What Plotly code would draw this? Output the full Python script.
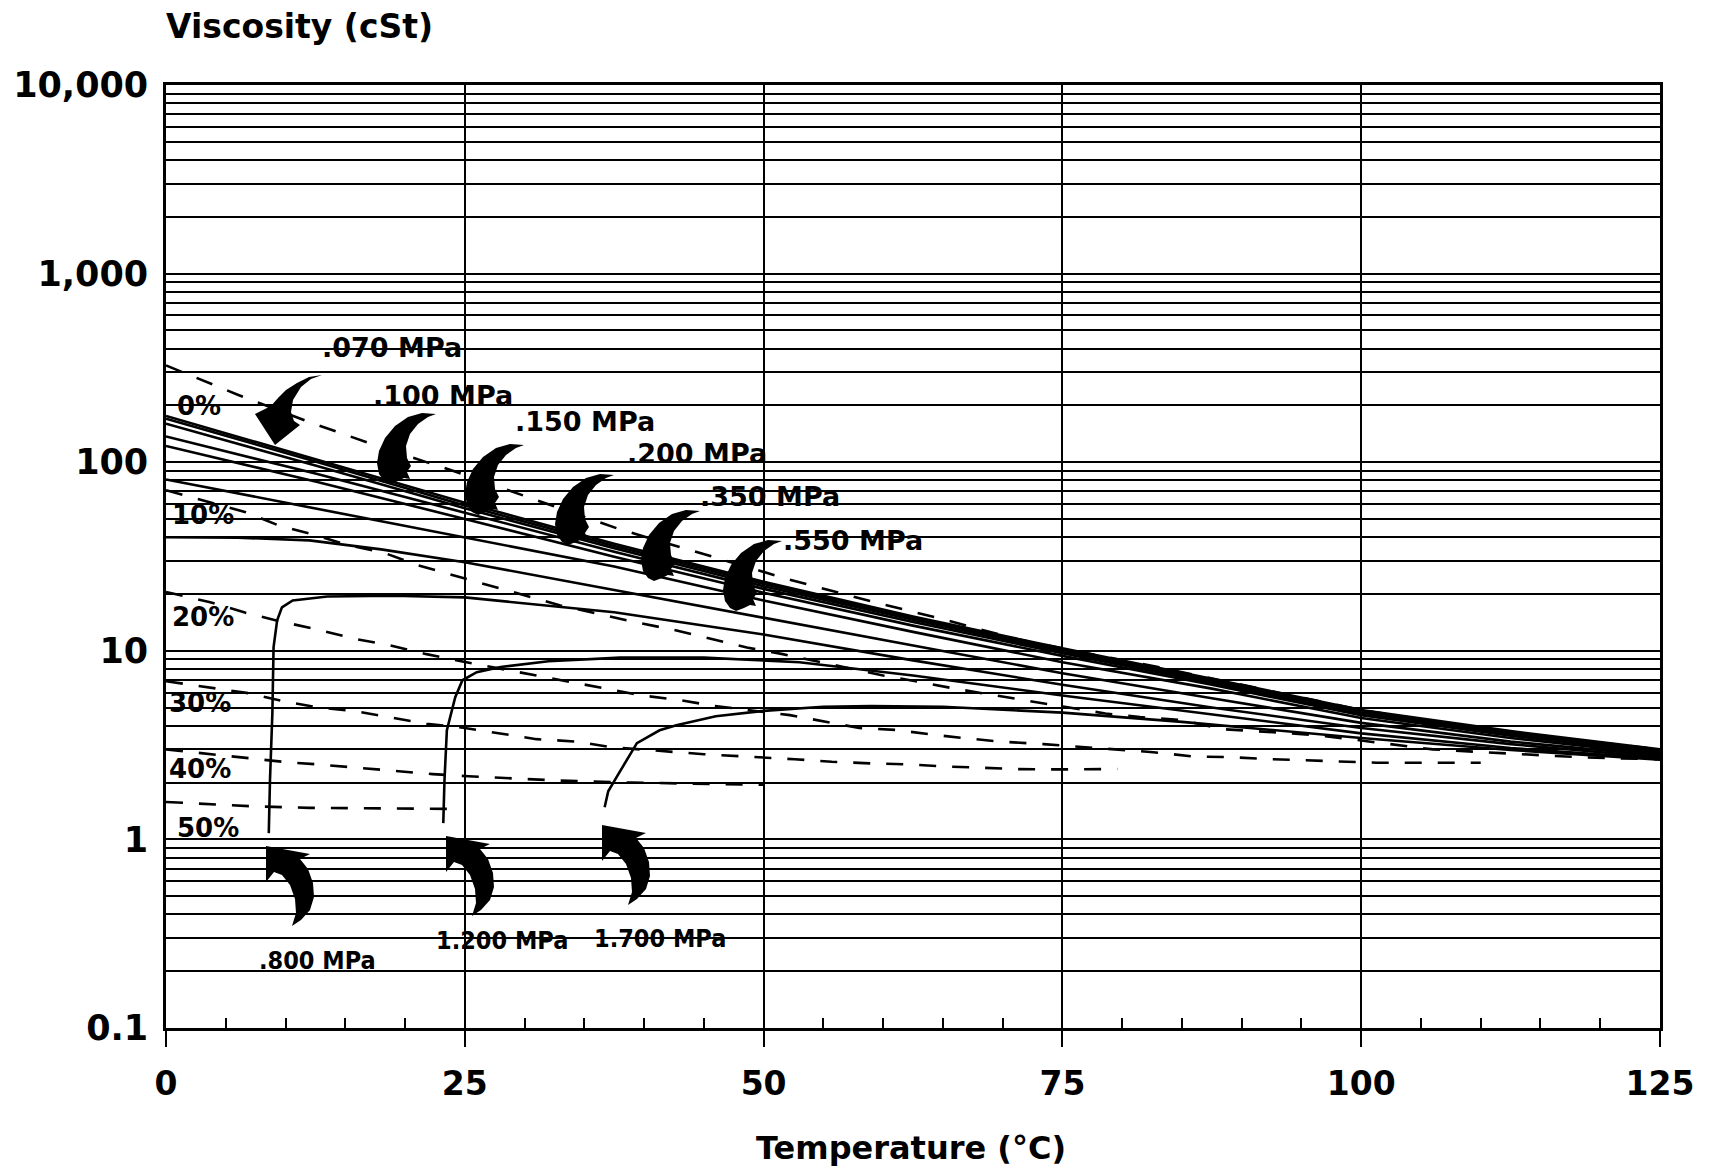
import plotly.graph_objects as go

# ------------------------------------------------------------------
# DATA
# Temperature in degC, kinematic viscosity in cSt
# ------------------------------------------------------------------
pct_labels = ["0%", "10%", "20%", "30%", "40%", "50%"]

# Dashed lines: constant refrigerant concentration
t_pct0 = [0, 6, 12, 18, 24, 30, 38, 44, 52, 59, 65, 71, 75, 83, 90, 100, 112, 125]
v_pct0 = [326, 228, 163, 120, 90, 66, 44, 34, 24, 18.3, 14.7, 11.6, 10.3, 8.2, 6.6, 4.85, 3.7, 3.0]

t_pct10 = [0, 3, 6.6, 9.4, 12.5, 15.2, 18.3, 21, 24, 27, 30, 33, 36, 39, 42.5, 45.6, 48.6, 51.6,
           57, 60, 63, 66, 69.4, 72.5, 75.5, 78.6, 81.5, 85, 88.4, 94, 97, 101, 106, 112.5, 118.6, 125]
v_pct10 = [71, 62.8, 54.5, 46.3, 41, 36.4, 33, 28.5, 25.2, 22.3, 19.6, 17.4, 15.8, 14.3, 12.9, 11.6, 10.4, 9.6,
           8.1, 7.4, 6.85, 6.3, 5.8, 5.4, 5.0, 4.65, 4.45, 4.29, 3.84, 3.66, 3.53, 3.29, 3.0, 2.85, 2.72, 2.66]

t_pct20 = [0, 3.7, 6.6, 9.6, 12.6, 15.7, 18.7, 21.8, 24.7, 30.6, 33.6, 36.7, 39.8, 42.8, 45.9, 52.2, 55.3,
           58, 61.2, 64, 66.7, 69.8, 73.4, 76.5, 79.6, 82.6, 86, 89, 92, 95, 98, 101.3, 104.3, 107.4, 110]
v_pct20 = [20.5, 18.1, 15.95, 14.3, 13.0, 11.6, 10.7, 9.6, 8.8, 7.5, 6.9, 6.3, 5.8, 5.5, 5.1, 4.56, 4.2,
           3.9, 3.8, 3.6, 3.45, 3.3, 3.2, 3.1, 2.98, 2.9, 2.75, 2.73, 2.67, 2.63, 2.6, 2.55, 2.55, 2.55, 2.55]

t_pct30 = [0, 6.9, 9.8, 12.8, 15.7, 18.8, 21.8, 25, 28, 31, 34.4, 37, 39.7, 45, 52.6, 55.7, 58.9,
           62, 65, 68.1, 71.2, 74.2, 77.3, 79.6]
v_pct30 = [6.9, 5.96, 5.4, 5.0, 4.8, 4.45, 4.1, 3.9, 3.64, 3.4, 3.3, 3.1, 3.0, 2.83, 2.66, 2.58, 2.53,
           2.5, 2.44, 2.4, 2.36, 2.35, 2.35, 2.36]

t_pct40 = [0, 6.9, 10, 13, 16, 19.2, 22.3, 25.3, 28.4, 33, 39, 45, 50]
v_pct40 = [3.0, 2.7, 2.57, 2.49, 2.4, 2.3, 2.22, 2.16, 2.11, 2.05, 2.0, 1.97, 1.95]

t_pct50 = [0, 7, 12, 17, 22.3, 24.8]
v_pct50 = [1.58, 1.5, 1.47, 1.46, 1.45, 1.45]

# Solid lines: constant pressure
t_std = [0, 12.5, 25, 37.5, 50, 62.5, 75, 87.5, 100, 112.5, 125]
v_p070 = [176, 104, 61, 37, 23.2, 15.2, 10.3, 7.1, 4.85, 3.75, 3.0]
v_p100 = [170, 101, 59, 36, 22.6, 14.9, 10.1, 7.0, 4.8, 3.7, 2.97]
v_p150 = [160, 96, 57, 35, 22.0, 14.6, 9.9, 6.9, 4.75, 3.65, 2.95]
v_p200 = [137, 87, 54, 33.5, 21.3, 14.2, 9.7, 6.75, 4.65, 3.6, 2.92]
v_p350 = [122, 79, 50, 31.5, 20.3, 13.6, 9.4, 6.6, 4.55, 3.55, 2.88]
v_p550 = [81, 57, 40, 28, 18.5, 12.6, 8.7, 6.3, 4.4, 3.45, 2.83]

t_pX = [0, 6, 12, 18, 25, 37.5, 50, 62.5, 75, 87.5, 100, 112.5, 125]
v_pX = [40, 39.8, 38.5, 34.5, 29.5, 21, 15, 10.6, 7.6, 5.6, 4.15, 3.3, 2.78]

t_p800 = [8.6, 8.7, 8.9, 9.0, 9.3, 9.7, 10.6, 13.5, 19, 25, 37.5, 50, 62.5, 75, 87.5, 100, 112.5, 125]
v_p800 = [1.08, 2.06, 4.67, 10.45, 14.5, 17.0, 18.5, 19.4, 19.6, 19.2, 16, 12.2, 8.9, 6.6, 5.0, 3.9, 3.2, 2.72]

t_p1200 = [23.2, 23.3, 23.5, 24.2, 24.8, 26, 28, 32, 38, 45, 53, 62.5, 75, 87.5, 100, 112.5, 125]
v_p1200 = [1.22, 2.06, 3.79, 5.68, 6.98, 7.7, 8.2, 8.8, 9.2, 9.2, 8.7, 7.4, 5.8, 4.6, 3.65, 3.05, 2.68]

t_p1700 = [36.7, 37.0, 37.7, 39.4, 41.3, 42.7, 46, 50, 55, 59, 65, 75, 85, 100, 112.5, 125]
v_p1700 = [1.48, 1.8, 2.14, 3.24, 3.79, 4.03, 4.5, 4.8, 5.05, 5.1, 5.05, 4.7, 4.2, 3.45, 2.98, 2.65]

upper_pressure_labels = [".070 MPa", ".100 MPa", ".150 MPa", ".200 MPa", ".350 MPa", ".550 MPa"]
lower_pressure_labels = [".800 MPa", "1.200 MPa", "1.700 MPa"]

x_ticks = [0, 25, 50, 75, 100, 125]
y_decades = [0.1, 1, 10, 100, 1000, 10000]
y_decade_text = ["0.1", "1", "10", "100", "1,000", "10,000"]

# ------------------------------------------------------------------
# FIGURE
# ------------------------------------------------------------------
W, H = 1710, 1173
PL, PR, PT, PB = 166, 1660, 85, 1028   # plot area in pixels


def to_paper(x, y):
    return (x - PL) / (PR - PL), (PB - y) / (PB - PT)


fig = go.Figure()

dashed = [(t_pct0, v_pct0), (t_pct10, v_pct10), (t_pct20, v_pct20),
          (t_pct30, v_pct30), (t_pct40, v_pct40), (t_pct50, v_pct50)]
for t, v in dashed:
    fig.add_trace(go.Scatter(x=t, y=v, mode="lines",
                             line=dict(color="black", width=2.6, dash="17px,16px"),
                             hoverinfo="skip"))

solid = [(t_std, v_p070), (t_std, v_p100), (t_std, v_p150), (t_std, v_p200),
         (t_std, v_p350), (t_std, v_p550), (t_pX, v_pX),
         (t_p800, v_p800), (t_p1200, v_p1200), (t_p1700, v_p1700)]
for t, v in solid:
    fig.add_trace(go.Scatter(x=t, y=v, mode="lines",
                             line=dict(color="black", width=2.6),
                             hoverinfo="skip"))

# y grid at every 1..9 x decade
y_tickvals, y_ticktext = [], []
for d, lab in zip(y_decades[:-1], y_decade_text[:-1]):
    for k in range(1, 10):
        y_tickvals.append(d * k)
        y_ticktext.append(lab if k == 1 else "")
y_tickvals.append(y_decades[-1])
y_ticktext.append(y_decade_text[-1])

fig.update_layout(
    width=W, height=H,
    margin=dict(l=PL, r=W - PR, t=PT, b=H - PB, pad=0),
    paper_bgcolor="white", plot_bgcolor="white",
    showlegend=False,
    xaxis=dict(range=[0, 125], tickvals=x_ticks, ticktext=[str(v) for v in x_ticks],
               automargin=False,
               showgrid=True, gridcolor="black", gridwidth=1.8,
               showline=True, linecolor="black", linewidth=2.6, mirror=True,
               ticks="outside", ticklen=16, tickwidth=1.8, tickcolor="black",
               ticklabelstandoff=9,
               minor=dict(tickvals=[v for v in range(5, 125, 5) if v % 25],
                          ticks="inside", ticklen=10, tickwidth=1.5,
                          tickcolor="black", showgrid=False),
               tickfont=dict(family="DejaVu Sans", size=33, color="black", weight="bold"),
               zeroline=False),
    yaxis=dict(type="log", range=[-1, 4], tickvals=y_tickvals, ticktext=y_ticktext,
               automargin=False,
               showgrid=True, gridcolor="black", gridwidth=1.7,
               showline=True, linecolor="black", linewidth=2.6, mirror=True,
               ticks="", ticklabelstandoff=8,
               tickfont=dict(family="DejaVu Sans", size=35, color="black", weight="bold"),
               zeroline=False),
)

ann_font = dict(family="DejaVu Sans", color="black", weight="bold")
annotations = []

# axis titles
xp, yp = to_paper(164, 27)
annotations.append(dict(text="Viscosity (cSt)", x=xp, y=yp, xref="paper", yref="paper",
                        xanchor="left", yanchor="middle", showarrow=False,
                        font=dict(ann_font, size=33)))
xp, yp = to_paper(911, 1148)
annotations.append(dict(text="Temperature (°C)", x=xp, y=yp, xref="paper", yref="paper",
                        xanchor="center", yanchor="middle", showarrow=False,
                        font=dict(ann_font, size=32)))

# percentage labels
pct_pos = [(175, 406), (170, 515), (170, 617), (167, 703), (167, 769), (175, 828)]
for lab, (px, py) in zip(pct_labels, pct_pos):
    xp, yp = to_paper(px, py)
    annotations.append(dict(text=lab, x=xp, y=yp, xref="paper", yref="paper",
                            xanchor="left", yanchor="middle", showarrow=False,
                            font=dict(ann_font, size=26)))

# upper pressure labels
up_pos = [(320, 347), (371, 395), (513, 421), (625, 454), (698, 496), (781, 540)]
for lab, (px, py) in zip(upper_pressure_labels, up_pos):
    xp, yp = to_paper(px, py)
    annotations.append(dict(text=lab, x=xp, y=yp, xref="paper", yref="paper",
                            xanchor="left", yanchor="middle", showarrow=False,
                            font=dict(ann_font, size=27)))

# lower pressure labels (condensed type)
low_pos = [(257, 960), (434, 940), (592, 938)]
for lab, (px, py) in zip(lower_pressure_labels, low_pos):
    xp, yp = to_paper(px, py)
    annotations.append(dict(text=lab, x=xp, y=yp, xref="paper", yref="paper",
                            xanchor="left", yanchor="middle", showarrow=False,
                            font=dict(family="DejaVu Sans Condensed, Liberation Sans Narrow, Liberation Sans",
                                      size=25, color="black", weight="bold")))

fig.update_layout(annotations=annotations)

# ------------------------------------------------------------------
# black curved arrows (drawn as filled paths in pixel space)
# ------------------------------------------------------------------


def path_from(points, ox, oy):
    parts = []
    for i, (dx, dy) in enumerate(points):
        X, Y = to_paper(ox + dx, oy + dy)
        parts.append(("M" if i == 0 else "L") + f"{X:.5f},{Y:.5f}")
    return " ".join(parts) + " Z"


arrow_070 = [(47, -70), (34, -68), (22, -62), (11, -55), (3, -47), (-4, -39), (-20, -31),
             (0, 0), (25, -20), (19, -24), (16, -33), (18, -45), (26, -58), (36, -66)]

horn = [(46, -70), (32, -71), (18, -67), (5, -58), (-5, -46), (-11, -33), (-13, -21), (-11, -10),
        (-6, -3), (0, 0), (8, -3), (14, -6), (20, -5), (17, -12), (21, -18), (17, -26),
        (16, -38), (20, -50), (28, -60), (38, -67)]

horn_up = [(0, 0), (44, 8), (34, 13), (42, 23), (47, 37), (48, 51), (44, 64), (35, 74), (26, 80),
           (30, 67), (29, 53), (24, 39), (16, 29), (8, 26), (0, 36)]

shapes = []
shapes.append(dict(type="path", path=path_from(arrow_070, 275, 445), xref="paper", yref="paper",
                   fillcolor="black", line=dict(width=0), layer="above"))
for tx, ty in [(390, 484), (478, 515), (568, 545), (654, 581), (736, 611)]:
    shapes.append(dict(type="path", path=path_from(horn, tx, ty), xref="paper", yref="paper",
                       fillcolor="black", line=dict(width=0), layer="above"))
for hx, hy in [(266, 846), (446, 836), (602, 825)]:
    shapes.append(dict(type="path", path=path_from(horn_up, hx, hy), xref="paper", yref="paper",
                       fillcolor="black", line=dict(width=0), layer="above"))

fig.update_layout(shapes=shapes)

fig.write_html("out.html")
